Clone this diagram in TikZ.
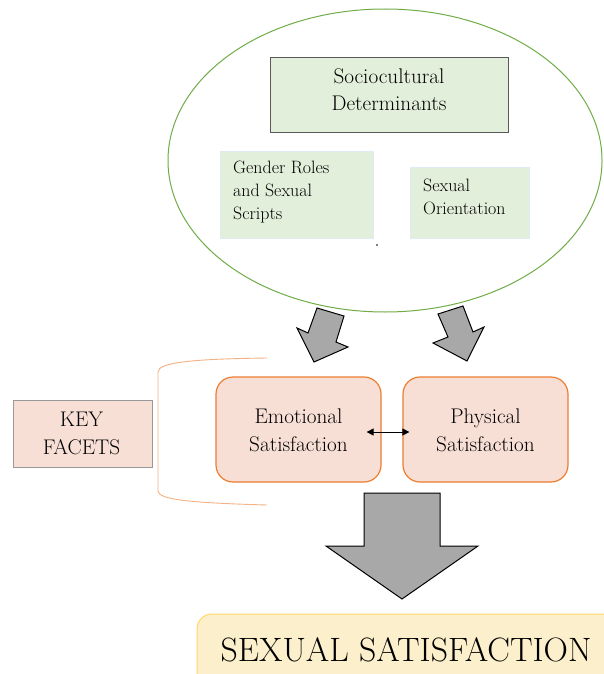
\documentclass[tikz,border=0pt]{standalone}
\usetikzlibrary{arrows.meta,shapes.geometric,calc}
\definecolor{ovalgreen}{HTML}{70AD47}
\definecolor{boxgreen}{HTML}{E2EFDA}
\definecolor{boxedge}{HTML}{DEEBF7}
\definecolor{pinkfill}{HTML}{F8DFD6}
\definecolor{orangeedge}{HTML}{ED7D31}
\definecolor{bracketc}{HTML}{F4B183}
\definecolor{arrowgray}{HTML}{A8A8A8}
\definecolor{yellowfill}{HTML}{FCEFCB}
\definecolor{yellowedge}{HTML}{FFD966}
\tikzset{
  bigtext/.style={font=\fontsize{21.2}{27.5}\selectfont, align=center, inner sep=0pt},
  smalltext/.style={font=\fontsize{17.9}{23}\selectfont, align=left, inner sep=0pt, anchor=west},
  greenbox/.style={fill=boxgreen, draw=boxedge, line width=0.6pt, inner sep=0pt},
  facetbox/.style={fill=pinkfill, draw=orangeedge, line width=1.2pt, rounded corners=17pt, minimum width=165pt, minimum height=105pt, inner sep=0pt},
  blockarrow/.style={fill=arrowgray, draw=black, line width=1pt, line join=miter},
}
\begin{document}
\begin{tikzpicture}[x=1pt,y=-1pt]
\useasboundingbox (0,0) rectangle (603,674);
\fill[white] (0,0) rectangle (603,674);

% large oval
\node[ellipse, draw=ovalgreen, line width=1pt, minimum width=434pt, minimum height=303pt, inner sep=0pt] (oval) at (385,160.5) {};

% sociocultural determinants
\node[fill=boxgreen, draw=black!65, line width=0.8pt, minimum width=238pt, minimum height=75pt, inner sep=0pt] (soc) at (389,94.5) {};
\node[bigtext] (socT) at (389,89.5) {Sociocultural\\Determinants};

% gender roles
\node[greenbox, minimum width=153pt, minimum height=87pt] (gen) at (296.5,194.5) {};
\node[smalltext] (genT) at (233,192) {Gender Roles\\and Sexual\\Scripts};

% sexual orientation
\node[greenbox, minimum width=119pt, minimum height=71pt] (ori) at (469.5,202.5) {};
\node[smalltext] (oriT) at (423,196.5) {Sexual\\Orientation};

% tiny dot
\fill (377,245) circle (0.8pt);

% tilted arrows
\draw[blockarrow] (317,308) -- (344,316) -- (336,342) -- (348,347) -- (314,362) -- (297,328) -- (308,333) -- cycle;
\draw[blockarrow] (438,314) -- (463,306) -- (473,332) -- (484,327) -- (467,361) -- (433,343) -- (448,337) -- cycle;

% key facets
\node[fill=pinkfill, draw=black!40, line width=0.8pt, minimum width=139pt, minimum height=67pt, inner sep=0pt] (key) at (82.5,433.5) {};
\node[bigtext] (keyT) at (81.5,433.5) {KEY\\FACETS};

% bracket
\coordinate (brTop) at (267,358);
\coordinate (brBot) at (267,505);
\draw[bracketc, line width=0.9pt] (brTop) .. controls (195,359) and (158,362) .. (158,372) -- (158,491) .. controls (158,500) and (195,503) .. (brBot);

% facet boxes
\node[facetbox] (emo) at (298.5,429.5) {};
\node[bigtext] (emoT) at (298.5,430.5) {Emotional\\Satisfaction};
\node[facetbox] (phy) at (485.5,429.5) {};
\node[bigtext] (phyT) at (485.5,430.5) {Physical\\Satisfaction};

\draw[{Stealth[length=7pt,width=7pt,inset=0pt]}-{Stealth[length=7pt,width=7pt,inset=0pt]}, line width=0.8pt]
  ([xshift=-15pt,yshift=-2.5pt]emo.east) -- ([xshift=7pt,yshift=-2.5pt]phy.west);

% big arrow
\draw[blockarrow] (364,493) -- (440,493) -- (440,546) -- (478,546) -- (402,599) -- (326,546) -- (364,546) -- cycle;

% sexual satisfaction
\node[fill=yellowfill, draw=yellowedge, line width=1pt, rounded corners=15pt, minimum width=430pt, minimum height=90pt, inner sep=0pt] (sat) at (412,659) {};
\node[font=\fontsize{33.8}{38}\selectfont, inner sep=0pt] (satT) at (406,650) {SEXUAL SATISFACTION};
\end{tikzpicture}
\end{document}
